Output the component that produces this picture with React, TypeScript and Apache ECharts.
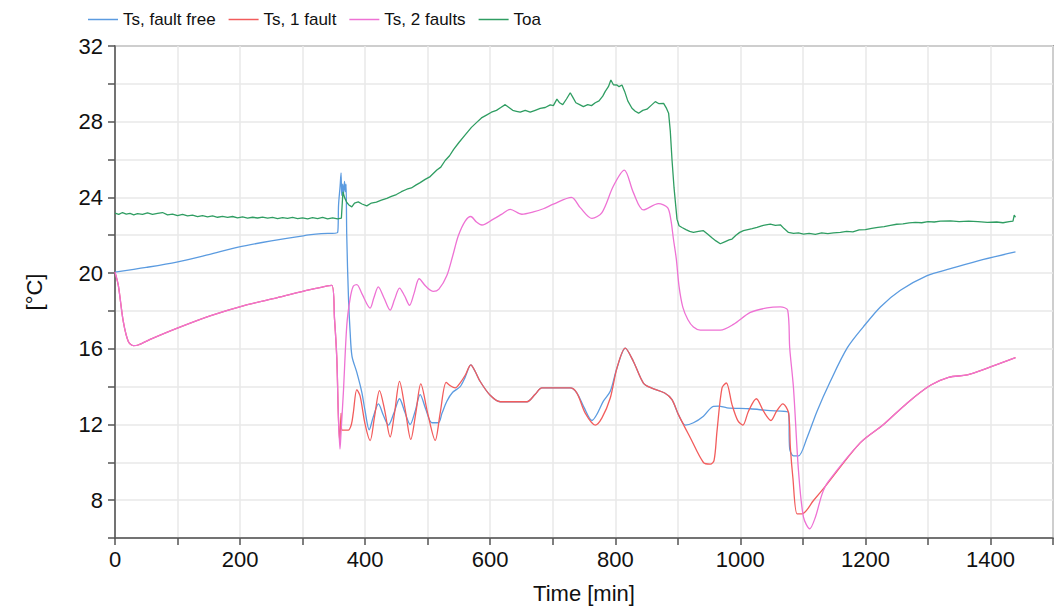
import React, { useEffect, useRef } from "react";
import * as echarts from "echarts";

const seriesNames = ["Ts, fault free", "Ts, 1 fault", "Ts, 2 faults", "Toa"];
const seriesColors = ["#5b9be0", "#f25c5c", "#ee72d4", "#2f9d62"];

// Time [min], temperature [°C]
const tsFaultFree: number[][] = [
  [0, 20.05], [50, 20.3], [98.7, 20.58], [150, 20.98], [197, 21.37], [250, 21.7], [301, 21.97], [330, 22.08],
  [356, 22.15], [357.5, 23.6], [360, 24.6], [361.5, 25.3], [362.5, 24.1], [364, 24.7], [365.5, 24.2], [367, 24.85],
  [368.5, 24.3], [369.5, 24.7], [370.6, 21.97], [373.4, 18.65], [376, 16.9], [379, 15.6], [386.7, 14.75],
  [394.7, 13.7], [400, 12.7], [406.5, 11.72], [413, 12.4], [421.3, 13.09], [429, 12.5], [437.3, 11.97], [446, 12.6],
  [455, 13.36], [463, 12.7], [472, 12.0], [480, 12.7], [488, 13.58], [497, 12.8], [506.7, 12.09], [517, 12.09],
  [523, 12.6], [530.7, 13.23], [540, 13.7], [552, 14.0], [560, 14.5], [569, 15.15], [576, 14.8], [584, 14.27],
  [600, 13.54], [616, 13.2], [658.7, 13.2], [672, 13.6], [682.7, 13.93], [728, 13.93], [738.7, 13.66], [750, 12.9],
  [762.7, 12.21], [770, 12.5], [781, 13.23], [792, 13.75], [802.7, 14.98], [816, 16.03], [829, 15.33], [845, 14.19],
  [857.6, 13.93], [879, 13.66], [890.7, 13.31], [901, 12.52], [912, 11.97], [925, 12.09], [941, 12.44], [957, 12.96],
  [965, 12.97], [978.7, 12.88], [1016, 12.83], [1042.7, 12.74], [1077, 12.65], [1079, 10.7], [1085, 10.34],
  [1093, 10.34], [1106.7, 11.3], [1122.7, 12.7], [1144, 14.28], [1170.7, 16.03], [1197, 17.17], [1224, 18.21],
  [1256, 19.09], [1298.7, 19.87], [1336, 20.23], [1389, 20.72], [1440, 21.12],
];

// common part of the faulty runs before the first fault
const preFault: number[][] = [
  [0, 20.05], [5.3, 19.35], [13.3, 17.43], [21.3, 16.38], [29.3, 16.17], [37, 16.2], [60, 16.55], [98.7, 17.08],
  [152, 17.74], [205, 18.27], [258.7, 18.69], [312, 19.12], [346.7, 19.35], [351, 17.6], [354.7, 15.5], [357.3, 12.35],
];

// common tail of the faulty runs
const faultTail: number[][] = [
  [1192, 11.04], [1229, 12.0], [1267, 13.14], [1304, 14.07], [1333, 14.49], [1363, 14.62], [1395, 14.98], [1440, 15.53],
];

const ts1FaultMid: number[][] = [
  [359.5, 11.1], [361.5, 12.6], [362.7, 11.7], [373, 11.7], [378, 12.0], [381, 12.6], [386.7, 13.84], [392, 13.5],
  [400, 12.0], [408, 11.15], [415, 12.4], [423, 13.79], [431, 12.8], [440, 11.34], [447, 12.6], [455, 14.28],
  [464, 12.8], [473, 11.21], [481, 12.6], [489, 14.14], [500, 12.6], [512, 11.16], [520, 12.6], [529.6, 14.22],
  [536, 14.05], [544, 13.93], [552, 14.2], [560, 14.6], [569, 15.15], [576, 14.8], [584, 14.27], [600, 13.54],
  [616, 13.2], [658.7, 13.2], [672, 13.6], [682.7, 13.93], [728, 13.93], [738.7, 13.66], [752, 12.6], [768, 11.97],
  [778.7, 12.35], [792, 13.4], [802.7, 14.98], [816, 16.03], [829, 15.33], [845, 14.19], [857.6, 13.93], [879, 13.66],
  [890.7, 13.31], [901, 12.52], [920, 11.3], [941, 9.99], [952, 9.9], [958, 10.1], [962.7, 11.65], [970.7, 13.93],
  [977.6, 14.19], [986.7, 13.05], [996, 12.2], [1004, 11.97], [1013, 12.7], [1025.6, 13.36], [1037, 12.7],
  [1049, 12.21], [1058, 12.7], [1068, 13.09], [1077, 12.62], [1080, 10.78], [1084, 9.2], [1090.7, 7.28],
  [1098.7, 7.28], [1117, 7.98], [1138.7, 8.85],
];

const ts2FaultsMid: number[][] = [
  [359.8, 10.7], [361.5, 11.6], [365.3, 13.75], [370.7, 17.25], [376, 18.65], [381, 19.3], [386.7, 19.39],
  [395, 18.9], [408, 18.15], [414, 18.7], [421, 19.27], [430, 18.7], [440, 18.04], [447, 18.6], [455, 19.21],
  [463, 18.8], [471, 18.3], [478, 18.9], [486.4, 19.7], [497, 19.3], [509, 19.03], [518, 19.15], [530.7, 19.87],
  [540, 20.9], [549, 21.97], [560, 22.75], [569, 22.99], [578, 22.7], [586.7, 22.54], [605, 22.85], [618, 23.1],
  [632, 23.37], [650.7, 23.11], [669, 23.23], [685, 23.4], [701, 23.64], [730, 24.0], [744, 23.46], [762.7, 22.89],
  [778.7, 23.2], [797, 24.6], [814.4, 25.44], [829, 24.25], [845, 23.34], [869, 23.67], [883.7, 23.46], [889, 22.8],
  [893, 21.8], [897.6, 20.75], [902, 19.3], [908, 18.2], [916, 17.55], [925, 17.15], [936, 16.99], [968, 16.99],
  [989, 17.29], [1016, 17.92], [1042.7, 18.16], [1064, 18.21], [1075.7, 18.04], [1079, 16.03], [1085, 13.93],
  [1093, 9.55], [1101, 7.1], [1111, 6.49], [1120, 7.1], [1130.7, 8.32], [1140, 8.95],
];

const ts1Fault: number[][] = [...preFault, ...ts1FaultMid, ...faultTail];
const ts2Faults: number[][] = [...preFault, ...ts2FaultsMid, ...faultTail];

const toa: number[][] = [
  [0, 23.17], [6, 23.1], [12, 23.2], [18, 23.12], [24, 23.16], [30, 23.08], [36, 23.14], [44, 23.1], [52, 23.18],
  [60, 23.1], [68, 23.15], [76, 23.2], [84, 23.08], [92, 23.12], [100, 23.03], [108, 23.1], [116, 23.02], [124, 23.06],
  [132, 22.98], [140, 23.04], [148, 22.97], [156, 23.02], [164, 22.95], [172, 23.0], [180, 22.94], [188, 22.99],
  [196, 22.92], [204, 22.97], [212, 22.9], [220, 22.95], [228, 22.91], [236, 22.96], [244, 22.9], [252, 22.94],
  [260, 22.88], [268, 22.93], [276, 22.89], [284, 22.94], [292, 22.88], [300, 22.92], [308, 22.87], [316, 22.93],
  [324, 22.88], [332, 22.95], [340, 22.87], [348, 22.92], [356, 22.86], [362, 22.9], [364.5, 24.3], [367, 24.0],
  [370.7, 23.73], [374, 23.6], [378.7, 23.5], [383, 23.7], [389, 23.76], [395, 23.65], [402.7, 23.55], [410, 23.7],
  [418, 23.75], [426, 23.85], [434.7, 23.95], [442, 24.05], [450, 24.15], [458, 24.3], [466.7, 24.43], [474, 24.5],
  [481, 24.65], [488, 24.78], [496, 24.95], [504, 25.1], [514.7, 25.45], [521, 25.6], [528, 25.95], [535, 26.2],
  [541.3, 26.52], [550, 26.9], [560, 27.3], [570, 27.7], [578, 27.95], [586, 28.2], [594, 28.35], [602, 28.5],
  [610, 28.6], [617, 28.75], [624, 28.9], [630, 28.75], [636, 28.6], [642, 28.55], [648, 28.5], [656, 28.6],
  [664, 28.5], [672, 28.6], [680, 28.7], [688, 28.75], [696, 28.89], [701, 28.85], [706.7, 29.19], [711, 29.0],
  [716, 28.9], [722, 29.2], [728, 29.53], [732, 29.3], [737, 29.0], [743, 28.9], [749, 28.8], [756, 28.9],
  [762, 28.85], [768, 29.0], [774, 29.1], [780, 29.35], [784, 29.6], [789, 29.85], [793, 30.2], [797, 29.95],
  [802.7, 29.94], [806, 29.85], [810.7, 29.94], [815, 29.6], [820, 29.1], [826.7, 28.71], [832, 28.55],
  [837.3, 28.45], [844, 28.6], [850.7, 28.66], [857, 28.85], [864, 29.06], [870, 28.95], [877.3, 28.97], [882, 28.7],
  [885.3, 28.45], [888, 27.5], [890.7, 26.0], [894, 24.5], [898.7, 22.85], [902, 22.5], [906.7, 22.41], [913, 22.3],
  [919, 22.2], [925, 22.15], [933, 22.2], [941, 22.24], [948, 22.05], [955, 21.85], [961, 21.7], [968, 21.55],
  [975, 21.65], [982, 21.75], [986.7, 21.8], [993, 22.0], [999, 22.15], [1005, 22.24], [1012, 22.3], [1019, 22.35],
  [1026.7, 22.41], [1034, 22.5], [1041, 22.55], [1048, 22.59], [1056, 22.52], [1064, 22.55], [1070, 22.35],
  [1077, 22.15], [1085, 22.1], [1093, 22.12], [1101, 22.06], [1110, 22.1], [1120, 22.05], [1130, 22.12],
  [1140, 22.08], [1149, 22.12], [1160, 22.15], [1170, 22.2], [1180, 22.18], [1190, 22.28], [1200, 22.3],
  [1210, 22.36], [1220, 22.42], [1230, 22.45], [1240, 22.52], [1250, 22.58], [1260, 22.6], [1270, 22.65],
  [1280, 22.68], [1290, 22.66], [1300, 22.72], [1310, 22.7], [1320, 22.75], [1336, 22.76], [1350, 22.72],
  [1365, 22.75], [1380, 22.72], [1395, 22.68], [1410, 22.7], [1420, 22.66], [1430, 22.72], [1436, 22.75],
  [1438, 23.06], [1440, 22.95],
];

const seriesData = [tsFaultFree, ts1Fault, ts2Faults, toa];

const FONT = "'Liberation Sans', Arial, Helvetica, sans-serif";

export default function App() {
  const ref = useRef<HTMLDivElement>(null);
  useEffect(() => {
    if (!ref.current) return;
    const chart = echarts.init(ref.current, undefined, { renderer: "svg" });
    const axisLineStyle = { color: "#555", width: 1.5 };
    const option = {
      animation: false,
      backgroundColor: "#ffffff",
      legend: {
        top: 6,
        left: 83,
        icon: "rect",
        itemWidth: 30,
        itemHeight: 1.5,
        itemGap: 13,
        data: seriesNames,
        textStyle: { fontFamily: FONT, fontSize: 17, color: "#111" },
      },
      grid: {
        left: 115,
        right: 8,
        top: 46,
        bottom: 68,
        show: true,
        borderColor: "#555",
        borderWidth: 1.5,
      },
      xAxis: {
        type: "value",
        min: 0,
        max: 1500,
        interval: 100,
        name: "Time [min]",
        nameLocation: "middle",
        nameGap: 44,
        nameTextStyle: { fontFamily: FONT, fontSize: 22, color: "#111" },
        axisLine: { show: true, onZero: false, lineStyle: axisLineStyle },
        axisTick: { show: true, length: 7, lineStyle: axisLineStyle },
        axisLabel: {
          formatter: (v: number) => (v % 200 === 0 ? String(v) : ""),
          margin: 10,
          fontFamily: FONT,
          fontSize: 22,
          color: "#111",
        },
        splitLine: { show: true, lineStyle: { color: "#e9e9e9", width: 1.5 } },
      },
      yAxis: {
        type: "value",
        min: 6,
        max: 32,
        interval: 2,
        name: "[°C]",
        nameLocation: "middle",
        nameGap: 70,
        nameRotate: 90,
        nameTextStyle: { fontFamily: FONT, fontSize: 22, color: "#111" },
        axisLine: { show: true, onZero: false, lineStyle: axisLineStyle },
        axisTick: { show: true, length: 7, lineStyle: axisLineStyle },
        axisLabel: {
          formatter: (v: number) => (v % 4 === 0 ? String(v) : ""),
          margin: 12,
          fontFamily: FONT,
          fontSize: 22,
          color: "#111",
        },
        splitLine: { show: true, lineStyle: { color: "#e9e9e9", width: 1.5 } },
      },
      series: seriesNames.map((name, i) => ({
        name,
        type: "line",
        data: seriesData[i],
        symbol: "none",
        showSymbol: false,
        smooth: i === 3 ? false : 0.3,
        color: seriesColors[i],
        lineStyle: { color: seriesColors[i], width: 1.3 },
        z: 2 + i,
      })),
    };
    chart.setOption(option as any);
    return () => chart.dispose();
  }, []);
  return (
    <div
      ref={ref}
      style={{ position: "fixed", left: 0, top: 0, width: 1061, height: 609 }}
    />
  );
}
